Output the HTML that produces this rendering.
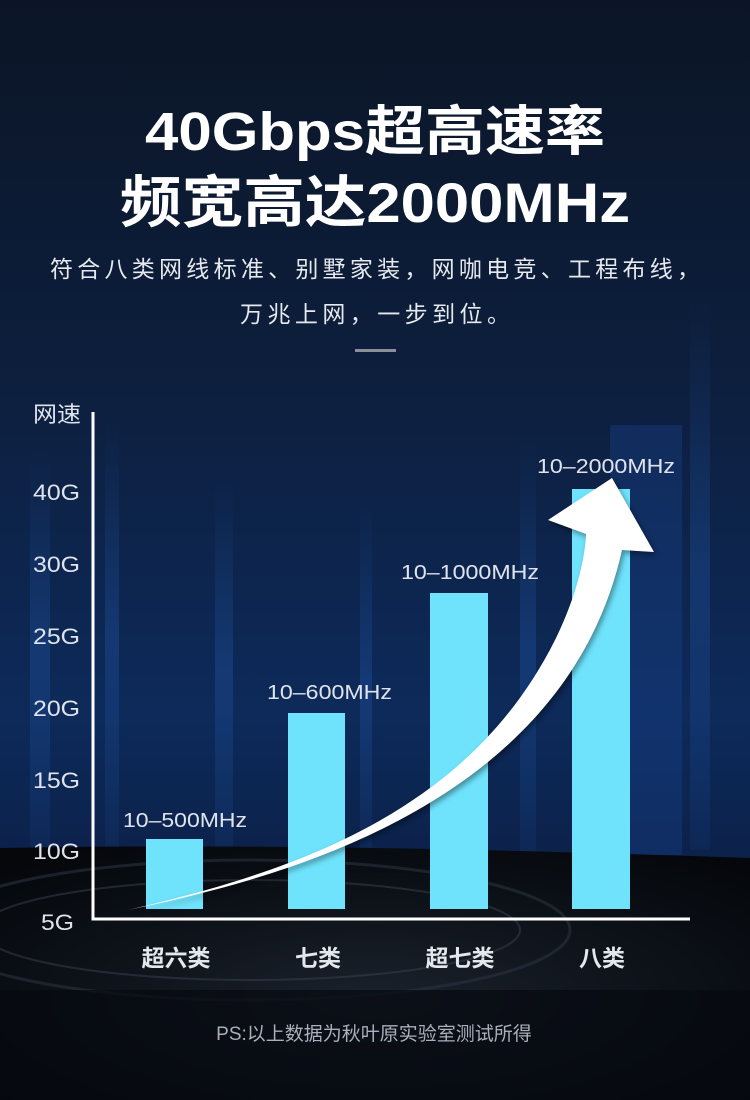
<!DOCTYPE html>
<html><head><meta charset="utf-8"><style>
html,body{margin:0;padding:0}
body{width:750px;height:1100px;overflow:hidden;background:#0a1a33;font-family:"Liberation Sans","Noto Sans CJK SC",sans-serif;}
</style></head><body>
<svg width="750" height="1100" viewBox="0 0 750 1100" xmlns="http://www.w3.org/2000/svg" style="display:block">
<defs>
<linearGradient id="bg" x1="0" y1="0" x2="0" y2="1">
<stop offset="0" stop-color="#0b1526"/>
<stop offset="0.35" stop-color="#0d1f3e"/>
<stop offset="0.65" stop-color="#0d2a5a"/>
<stop offset="0.8" stop-color="#0b2048"/>
<stop offset="1" stop-color="#05080f"/>
</linearGradient>
<linearGradient id="streak" x1="0" y1="0" x2="0" y2="1">
<stop offset="0" stop-color="#2a6acc" stop-opacity="0"/>
<stop offset="0.5" stop-color="#2a6acc" stop-opacity="0.25"/>
<stop offset="1" stop-color="#2a6acc" stop-opacity="0.08"/>
</linearGradient>
<radialGradient id="road" cx="0.5" cy="0.6" r="0.7">
<stop offset="0" stop-color="#1b212b"/>
<stop offset="0.6" stop-color="#0c1118"/>
<stop offset="1" stop-color="#05070b"/>
</radialGradient>
<filter id="sh"><feGaussianBlur stdDeviation="3"/></filter>
</defs>
<rect width="750" height="1100" fill="url(#bg)"/>
<g>
<rect x="30" y="450" width="20" height="400" fill="url(#streak)"/>
<rect x="105" y="420" width="14" height="430" fill="url(#streak)"/>
<rect x="215" y="480" width="18" height="380" fill="url(#streak)"/>
<rect x="360" y="500" width="12" height="360" fill="url(#streak)"/>
<rect x="520" y="440" width="16" height="420" fill="url(#streak)"/>
<rect x="610" y="425" width="72" height="430" fill="#1a4a9a" opacity="0.3"/>
<rect x="690" y="300" width="20" height="550" fill="url(#streak)"/>
</g>
<path d="M0 848 Q300 842 750 858 L750 1100 L0 1100 Z" fill="url(#road)"/>
<ellipse cx="250" cy="930" rx="320" ry="70" fill="none" stroke="#2a3240" stroke-width="3" opacity="0.6"/>
<ellipse cx="250" cy="930" rx="270" ry="50" fill="none" stroke="#3a4250" stroke-width="2" opacity="0.5"/>
<rect x="0" y="990" width="750" height="110" fill="#06090f" opacity="0.7"/>

<text x="145" y="150" fill="#fff" font-size="54" font-weight="bold" textLength="460" lengthAdjust="spacingAndGlyphs">40Gbps超高速率</text>
<text x="120" y="222" fill="#fff" font-size="56" font-weight="bold" textLength="510" lengthAdjust="spacingAndGlyphs">频宽高达2000MHz</text>
<text x="50" y="277" fill="#e6e9ee" font-size="23" textLength="650" lengthAdjust="spacing">符合八类网线标准、别墅家装，网咖电竞、工程布线，</text>
<text x="240" y="322" fill="#e6e9ee" font-size="23" textLength="270" lengthAdjust="spacing">万兆上网，一步到位。</text>
<rect x="355" y="349" width="41" height="3" fill="#8a8f98"/>

<g fill="#dfe4ec" font-size="22">
<text x="33" y="422" textLength="48" lengthAdjust="spacingAndGlyphs">网速</text>
<text x="33" y="500" textLength="47" lengthAdjust="spacingAndGlyphs">40G</text>
<text x="33" y="572" textLength="47" lengthAdjust="spacingAndGlyphs">30G</text>
<text x="33" y="644" textLength="47" lengthAdjust="spacingAndGlyphs">25G</text>
<text x="33" y="716" textLength="47" lengthAdjust="spacingAndGlyphs">20G</text>
<text x="33" y="788" textLength="47" lengthAdjust="spacingAndGlyphs">15G</text>
<text x="33" y="859" textLength="47" lengthAdjust="spacingAndGlyphs">10G</text>
<text x="41" y="930" textLength="33" lengthAdjust="spacingAndGlyphs">5G</text>
</g>
<rect x="146" y="839" width="57" height="70" fill="#6fe3fc"/>
<rect x="288" y="713" width="57" height="196" fill="#6fe3fc"/>
<rect x="430" y="593" width="58" height="316" fill="#6fe3fc"/>
<rect x="572" y="489" width="58" height="420" fill="#6fe3fc"/>
<g fill="#dfe4ec" font-size="20">
<text x="123" y="827" textLength="124" lengthAdjust="spacingAndGlyphs">10–500MHz</text>
<text x="267" y="699" textLength="125" lengthAdjust="spacingAndGlyphs">10–600MHz</text>
<text x="401" y="579" textLength="138" lengthAdjust="spacingAndGlyphs">10–1000MHz</text>
<text x="537" y="473" textLength="138" lengthAdjust="spacingAndGlyphs">10–2000MHz</text>
</g>
<path d="M128 910 C300 870 470 810 555 640 C575 600 585 560 586 534 L548 520 L612 478 L654 552 L622 550 C600 650 540 730 450 790 C360 850 250 885 128 910 Z" fill="#000" opacity="0.4" filter="url(#sh)" transform="translate(2,3)"/>
<path d="M128 910 C300 870 470 810 555 640 C575 600 585 560 586 534 L548 520 L612 478 L654 552 L622 550 C600 650 540 730 450 790 C360 850 250 885 128 910 Z" fill="#fff"/>
<path d="M93 412 L93 919 L690 919" fill="none" stroke="#fff" stroke-width="3"/>
<g fill="#e3e7ee" font-size="23" font-weight="bold" text-anchor="middle">
<text x="176" y="966">超六类</text>
<text x="318" y="966">七类</text>
<text x="460" y="966">超七类</text>
<text x="602" y="966">八类</text>
</g>
<text x="374" y="1040" fill="#a9b0bb" font-size="19" text-anchor="middle">PS:以上数据为秋叶原实验室测试所得</text>
</svg>
</body></html>
